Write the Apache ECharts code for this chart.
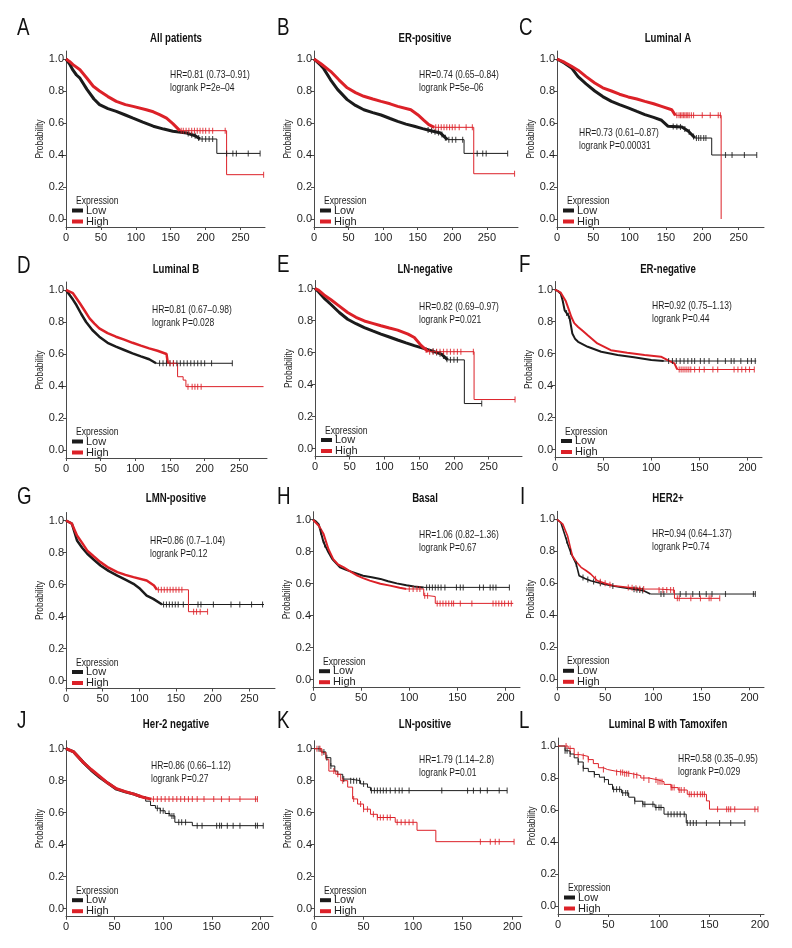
<!DOCTYPE html>
<html>
<head>
<meta charset="utf-8">
<script src="https://cdn.jsdelivr.net/npm/echarts@6/dist/echarts.min.js"></script>
<style>
html,body{margin:0;padding:0;background:#fff;}
#chart{width:792px;height:948px;}
</style>
</head>
<body>
<div id="chart"></div>
<script>
// ---- text ----
var letters = ['A','B','C','D','E','F','G','H','I','J','K','L'];
var titles = ['All patients','ER-positive','Luminal A','Luminal B','LN-negative','ER-negative',
	'LMN-positive','Basal','HER2+','Her-2 negative','LN-positive','Luminal B with Tamoxifen'];
var hrTexts = ['HR=0.81 (0.73–0.91)','HR=0.74 (0.65–0.84)','HR=0.73 (0.61–0.87)','HR=0.81 (0.67–0.98)',
	'HR=0.82 (0.69–0.97)','HR=0.92 (0.75–1.13)','HR=0.86 (0.7–1.04)','HR=1.06 (0.82–1.36)',
	'HR=0.94 (0.64–1.37)','HR=0.86 (0.66–1.12)','HR=1.79 (1.14–2.8)','HR=0.58 (0.35–0.95)'];
var pTexts = ['logrank P=2e–04','logrank P=5e–06','logrank P=0.00031','logrank P=0.028',
	'logrank P=0.021','logrank P=0.44','logrank P=0.12','logrank P=0.67',
	'logrank P=0.74','logrank P=0.27','logrank P=0.01','logrank P=0.029'];
var yTicks = [0, 0.2, 0.4, 0.6, 0.8, 1.0];
var xTicksLong = [0, 50, 100, 150, 200, 250];
var xTicksShort = [0, 50, 100, 150, 200];

// ---- survival curves [month, probability] ----
var lowA = [[0,1],[5,0.97],[10,0.93],[15,0.9],[20,0.88],[30,0.81],[40,0.75],[48,0.715],[60,0.69],[72,0.673],[85,0.65],[96,0.63],[110,0.605],[125,0.58],[140,0.562],[153,0.548],[173,0.537],[185,0.52],[192,0.5],[216,0.41],[278,0.41]];
var highA = [[0,1],[5,0.985],[10,0.965],[20,0.933],[30,0.88],[39,0.83],[48,0.8],[60,0.765],[72,0.735],[85,0.715],[96,0.704],[115,0.683],[125,0.67],[134,0.652],[144,0.63],[153,0.596],[163,0.552],[230,0.277],[283,0.277]];
var censLowA = [175,180,185,190,195,200,205,210,230,239,244,261,278];
var censHighA = [165,168,172,176,180,184,188,192,196,200,205,210,228,283];

var lowB = [[0,1],[5,0.98],[10,0.96],[14,0.94],[24,0.87],[34,0.81],[48,0.746],[60,0.71],[72,0.683],[85,0.665],[97,0.65],[110,0.628],[121,0.61],[133,0.593],[145,0.58],[157,0.565],[169,0.552],[183,0.537],[193,0.496],[217,0.41],[280,0.41]];
var highB = [[0,1],[10,0.97],[24,0.923],[36,0.87],[48,0.82],[60,0.79],[72,0.767],[85,0.75],[97,0.735],[110,0.72],[121,0.704],[140,0.683],[150,0.652],[159,0.617],[166,0.59],[174,0.573],[231,0.283],[290,0.283]];
var censLowB = [165,170,175,180,185,190,195,200,205,215,236,244,249,280];
var censHighB = [176,180,184,188,192,196,200,204,210,220,229,290];

var lowC = [[0,1],[10,0.975],[20,0.944],[29,0.89],[40,0.845],[52,0.8],[63,0.765],[75,0.735],[86,0.715],[98,0.694],[110,0.672],[121,0.652],[133,0.635],[144,0.617],[153,0.579],[172,0.575],[181,0.548],[190,0.506],[213,0.4],[275,0.4]];
var highC = [[0,1],[10,0.98],[20,0.954],[29,0.93],[40,0.89],[52,0.85],[63,0.82],[75,0.8],[86,0.78],[98,0.763],[110,0.75],[121,0.735],[133,0.72],[144,0.704],[158,0.683],[163,0.648],[226,0]];
var censLowC = [160,165,170,176,182,188,192,195,198,202,205,232,241,258,275];
var censHighC = [165,168,170,172,174,176,178,180,182,185,188,200,211,222,225];

var lowD = [[0,1],[5,0.97],[10,0.94],[15,0.906],[22,0.85],[29,0.8],[38,0.75],[48,0.708],[60,0.67],[72,0.646],[84,0.625],[96,0.604],[108,0.585],[120,0.567],[130,0.542],[240,0.542]];
var highD = [[0,1],[10,0.98],[20,0.917],[27,0.87],[34,0.823],[41,0.79],[48,0.76],[60,0.73],[72,0.708],[84,0.69],[96,0.67],[108,0.652],[120,0.635],[132,0.62],[140,0.608],[145,0.6],[147,0.542],[161,0.458],[169,0.437],[173,0.396],[285,0.396]];
var censLowD = [135,140,145,150,155,160,165,170,175,180,185,190,195,200,210,240];
var censHighD = [150,155,176,182,186,190,195];

var lowE = [[0,1],[5,0.98],[13,0.94],[23,0.9],[35,0.85],[47,0.808],[59,0.78],[71,0.756],[83,0.735],[95,0.715],[107,0.697],[119,0.678],[131,0.66],[143,0.643],[155,0.627],[167,0.612],[182,0.59],[191,0.554],[215,0.281],[240,0.281]];
var highE = [[0,1],[5,0.99],[13,0.96],[23,0.93],[35,0.89],[47,0.85],[59,0.82],[71,0.797],[83,0.782],[95,0.767],[107,0.753],[119,0.74],[134,0.715],[143,0.694],[153,0.643],[163,0.605],[229,0.306],[288,0.306]];
var censLowE = [170,175,180,185,190,195,200,205,240];
var censHighE = [160,165,170,175,180,185,190,195,200,205,210,228,288];

var lowF = [[0,1],[3,0.99],[6,0.973],[8,0.93],[10,0.87],[15,0.828],[18,0.725],[21,0.69],[24,0.673],[34,0.642],[48,0.611],[65,0.59],[82,0.576],[100,0.559],[113,0.553],[209,0.553]];
var highF = [[0,1],[6,0.98],[11,0.93],[14,0.88],[17,0.828],[20,0.79],[24,0.766],[29,0.74],[34,0.714],[44,0.663],[58,0.621],[75,0.605],[93,0.59],[110,0.58],[117,0.559],[124,0.538],[127,0.5],[207,0.5]];
var censLowF = [12,14,118,122,126,130,134,138,142,145,151,155,160,169,177,183,186,193,200,204,208];
var censHighF = [129,131,133,135,137,139,141,145,150,155,164,169,186,190,194,198,202,207];

var lowG = [[0,1],[8,0.98],[15,0.875],[22,0.83],[29,0.792],[38,0.755],[47,0.719],[58,0.685],[70,0.656],[81,0.63],[92,0.604],[101,0.573],[110,0.531],[119,0.51],[131,0.475],[270,0.475]];
var highG = [[0,1],[8,0.98],[15,0.906],[22,0.86],[29,0.812],[38,0.775],[47,0.74],[58,0.705],[70,0.677],[81,0.66],[92,0.646],[110,0.625],[120,0.594],[124,0.567],[167,0.43],[193,0.43]];
var censLowG = [133,137,141,145,149,153,160,180,184,201,225,237,253,268];
var censHighG = [126,130,134,138,142,146,150,154,158,174,178,183,193];

var lowH = [[0,1],[3,0.99],[6,0.97],[11,0.858],[16,0.796],[20,0.754],[28,0.702],[35,0.685],[42,0.671],[52,0.65],[61,0.64],[70,0.63],[78,0.615],[87,0.602],[97,0.59],[105,0.582],[115,0.577],[204,0.577]];
var highH = [[0,1],[6,0.962],[11,0.91],[16,0.817],[21,0.754],[26,0.72],[32,0.702],[39,0.675],[46,0.65],[52,0.635],[59,0.619],[70,0.6],[80,0.588],[90,0.575],[97,0.567],[115,0.525],[120,0.52],[127,0.477],[208,0.477]];
var censLowH = [8,12,118,121,124,127,130,133,137,149,153,156,173,177,184,187,190,204];
var censHighH = [100,104,108,111,116,119,129,132,135,138,141,144,146,153,165,187,190,193,196,199,203,206];

var lowI = [[0,1],[4,0.98],[9,0.886],[12,0.83],[15,0.782],[20,0.72],[23,0.647],[29,0.63],[35,0.616],[42,0.605],[49,0.595],[57,0.585],[66,0.575],[78,0.565],[90,0.554],[97,0.533],[206,0.533]];
var highI = [[0,1],[6,0.97],[11,0.896],[14,0.82],[16,0.772],[20,0.735],[25,0.7],[30,0.68],[35,0.658],[42,0.616],[50,0.6],[59,0.585],[73,0.575],[90,0.564],[105,0.558],[122,0.506],[169,0.506]];
var censLowI = [10,14,20,27,32,38,45,58,80,83,86,89,108,111,128,134,141,148,155,161,175,204,206];
var censHighI = [40,45,50,55,74,78,82,86,90,106,110,114,118,121,125,127,139,149,158,160,169];

var lowJ = [[0,1],[8,0.98],[18,0.913],[26,0.865],[35,0.82],[43,0.785],[52,0.747],[61,0.73],[70,0.716],[77,0.7],[82,0.672],[87,0.645],[92,0.628],[97,0.612],[102,0.595],[107,0.58],[112,0.54],[130,0.519],[203,0.519]];
var highJ = [[0,1],[8,0.98],[18,0.913],[26,0.87],[35,0.825],[43,0.785],[52,0.75],[61,0.732],[70,0.716],[80,0.695],[88,0.685],[197,0.685]];
var censLowJ = [94,97,100,106,109,111,116,119,123,135,140,155,158,160,166,172,179,195,197,203];
var censHighJ = [90,94,98,102,106,110,114,118,122,126,130,135,142,152,160,168,179,195,197];

var lowK = [[0,1],[7,0.98],[12,0.944],[17,0.892],[21,0.86],[24,0.84],[29,0.81],[37,0.8],[47,0.78],[54,0.759],[57,0.738],[195,0.738]];
var highK = [[0,1],[8,0.975],[12,0.934],[15,0.86],[22,0.84],[27,0.8],[34,0.76],[39,0.686],[44,0.654],[50,0.622],[57,0.59],[64,0.57],[82,0.54],[104,0.49],[123,0.419],[202,0.419]];
var censLowK = [5,10,13,17,30,37,40,43,46,50,58,61,64,67,70,73,77,82,86,89,96,129,155,161,168,175,187,195];
var censHighK = [3,6,8,20,24,29,40,47,50,54,60,64,67,70,74,77,84,88,92,96,100,168,178,183,187,202];

var lowL = [[0,1],[7,0.97],[12,0.95],[16,0.926],[20,0.9],[25,0.86],[30,0.84],[36,0.822],[41,0.805],[46,0.79],[50,0.76],[54,0.729],[63,0.707],[70,0.68],[76,0.655],[84,0.636],[96,0.616],[105,0.574],[127,0.519],[185,0.519]];
var highL = [[0,1],[10,0.985],[16,0.946],[22,0.935],[30,0.915],[35,0.89],[40,0.864],[45,0.853],[49,0.843],[57,0.835],[66,0.826],[74,0.815],[82,0.8],[90,0.788],[99,0.777],[105,0.76],[112,0.74],[119,0.725],[128,0.698],[147,0.657],[150,0.605],[198,0.605]];
var censLowL = [7,9,12,20,25,36,46,55,58,61,64,67,69,76,84,86,94,97,100,102,109,112,115,118,121,125,128,131,134,137,147,160,171,185];
var censHighL = [8,12,20,25,30,45,58,62,64,66,68,70,75,78,85,90,97,99,101,103,112,113,115,120,122,125,130,132,135,138,141,143,145,158,167,169,171,175,195,198];

var lowCurves = [lowA,lowB,lowC,lowD,lowE,lowF,lowG,lowH,lowI,lowJ,lowK,lowL];
var highCurves = [highA,highB,highC,highD,highE,highF,highG,highH,highI,highJ,highK,highL];
var lowCens = [censLowA,censLowB,censLowC,censLowD,censLowE,censLowF,censLowG,censLowH,censLowI,censLowJ,censLowK,censLowL];
var highCens = [censHighA,censHighB,censHighC,censHighD,censHighE,censHighF,censHighG,censHighH,censHighI,censHighJ,censHighK,censHighL];

// ---- layout (pixels): y-axis x, y of 1.0, plot width, x max, text spots, dense-band width & ends ----
var layout = [
	{x0:66, y1:59, w:199, xMax:285, hr:[170,75], tt:[176,39], lt:[17,28], bw:3, tl:192, th:163},
	{x0:314, y1:59, w:204, xMax:295, hr:[419,75], tt:[425,39], lt:[277,28], bw:3, tl:193, th:174},
	{x0:557, y1:59, w:207, xMax:285, hr:[579,133], tt:[668,39], lt:[519,28], bw:3, tl:190, th:163},
	{x0:66, y1:290, w:201, xMax:290, hr:[152,310], tt:[176,270], lt:[17,266], bw:2.5, tl:130, th:147},
	{x0:315, y1:288.5, w:207, xMax:298, hr:[419,307], tt:[425,270], lt:[277,265], bw:3, tl:191, th:163},
	{x0:555, y1:289.5, w:207, xMax:215, hr:[652,306], tt:[668,270], lt:[519,265], bw:2, tl:113, th:127},
	{x0:66, y1:520.5, w:209, xMax:285, hr:[150,541], tt:[176,499], lt:[17,497], bw:2.5, tl:131, th:124},
	{x0:313, y1:519.7, w:207, xMax:215, hr:[419,535], tt:[425,499], lt:[277,497], bw:2, tl:115, th:97},
	{x0:557, y1:519.3, w:207, xMax:215, hr:[652,534], tt:[668,499], lt:[520,497], bw:1.6, tl:97, th:90},
	{x0:66, y1:748.7, w:207, xMax:213, hr:[151,766], tt:[176,725], lt:[17,721], bw:3, tl:77, th:88},
	{x0:314, y1:748.7, w:208, xMax:210, hr:[419,760], tt:[425,725], lt:[277,721], bw:0, tl:0, th:0},
	{x0:558, y1:746, w:206, xMax:204, hr:[678,759], tt:[668,725], lt:[519,721], bw:0, tl:0, th:0}
];

var FONT = "'Liberation Sans', Arial, sans-serif";
var BLACK = '#1b1b1b', RED = '#dc2128', AXIS = '#4a4a4a', INK = '#1e1e1e';
var UNIT = 160; // pixels for probability 1.0

// y value of a curve at time t (linear inside the dense band, step after it)
function survAt(pts, t, denseTo) {
	for (var k = pts.length - 1; k >= 0; k--) {
		if (pts[k][0] <= t) {
			if (t <= denseTo && k < pts.length - 1) {
				var a = pts[k], b = pts[k + 1];
				return a[1] + (b[1] - a[1]) * (t - a[0]) / (b[0] - a[0]);
			}
			return pts[k][1];
		}
	}
	return 1;
}

var option = {
	animation: false,
	backgroundColor: '#fff',
	grid: [], xAxis: [], yAxis: [], series: [], legend: [], graphic: []
};

function addCurve(i, pts, cens, name, color, bw, denseTo) {
	if (bw > 0 && denseTo > 0) {
		var dense = pts.filter(function (p) { return p[0] <= denseTo; });
		option.series.push({
			type: 'line', name: name, xAxisIndex: i, yAxisIndex: i, data: dense,
			showSymbol: false, symbol: 'none', color: color,
			lineStyle: {width: bw, color: color}, silent: true, z: 3
		});
	}
	var start = 0;
	pts.forEach(function (p, k) { if (p[0] <= denseTo) start = k; });
	option.series.push({
		type: 'line', name: name, xAxisIndex: i, yAxisIndex: i, data: pts.slice(start),
		step: 'end', showSymbol: false, symbol: 'none', color: color,
		lineStyle: {width: 1, color: color}, silent: true, z: 3
	});
	option.series.push({
		type: 'scatter', name: name + '-cens', xAxisIndex: i, yAxisIndex: i,
		data: cens.map(function (t) { return [t, survAt(pts, t, denseTo)]; }),
		symbol: 'rect', symbolSize: [1.1, 6], itemStyle: {color: color}, silent: true, z: 4
	});
}

// condensed-looking text: squeezed horizontally with scaleX
function label(x, y, text, size, squeeze, opts) {
	opts = opts || {};
	return {
		type: 'text', x: x, y: y, rotation: opts.rot || 0, scaleX: squeeze, silent: true,
		style: {text: text, font: (opts.bold ? 'bold ' : '') + size + 'px ' + FONT,
			fill: opts.fill || INK, align: opts.align || 'left', verticalAlign: 'middle'}
	};
}

layout.forEach(function (L, i) {
	var y0 = L.y1 + UNIT;
	var xt = L.xMax > 250 ? xTicksLong : xTicksShort;
	option.grid.push({left: L.x0, top: L.y1 - 0.05 * UNIT, width: L.w, height: 1.1 * UNIT});
	option.xAxis.push({
		gridIndex: i, type: 'value', min: 0, max: L.xMax,
		axisLine: {onZero: false, lineStyle: {color: AXIS, width: 1}},
		axisTick: {length: 3, customValues: xt, lineStyle: {color: AXIS}},
		axisLabel: {customValues: xt, fontSize: 11, color: INK, fontFamily: FONT, margin: 5},
		splitLine: {show: false}
	});
	option.yAxis.push({
		gridIndex: i, type: 'value', min: -0.05, max: 1.05,
		axisLine: {show: true, onZero: false, lineStyle: {color: AXIS, width: 1}},
		axisTick: {show: true, length: 3, customValues: yTicks, lineStyle: {color: AXIS}},
		axisLabel: {customValues: yTicks, fontSize: 11, color: INK, fontFamily: FONT, margin: 2,
			formatter: function (v) { return v.toFixed(1); }},
		splitLine: {show: false}
	});
	addCurve(i, lowCurves[i], lowCens[i], 'Low', BLACK, L.bw, L.tl);
	addCurve(i, highCurves[i], highCens[i], 'High', RED, L.bw, L.th);

	option.legend.push({
		data: ['Low', 'High'], orient: 'vertical', left: L.x0 + 6, top: y0 - 14,
		padding: 0, itemGap: 0, itemWidth: 11, itemHeight: 4, icon: 'rect', selectedMode: false,
		textStyle: {fontSize: 11, color: INK, fontFamily: FONT, lineHeight: 8.5, padding: [0, 0, 0, -2]}
	});

	option.graphic.push(
		label(L.lt[0], L.lt[1], letters[i], 24, 0.78, {fill: '#111'}),
		label(L.tt[0], L.tt[1], titles[i], 12.5, 0.77, {bold: true, align: 'center', fill: '#111'}),
		label(L.hr[0], L.hr[1], hrTexts[i], 11.5, 0.74),
		label(L.hr[0], L.hr[1] + 13.3, pTexts[i], 11.5, 0.74),
		label(L.x0 + 10, y0 - 18, 'Expression', 11, 0.78),
		label(L.x0 - 26, L.y1 + UNIT / 2, 'Probability', 11, 0.76, {rot: Math.PI / 2, align: 'center'})
	);
});

var myChart = echarts.init(document.getElementById('chart'));
myChart.setOption(option);
</script>
</body>
</html>
